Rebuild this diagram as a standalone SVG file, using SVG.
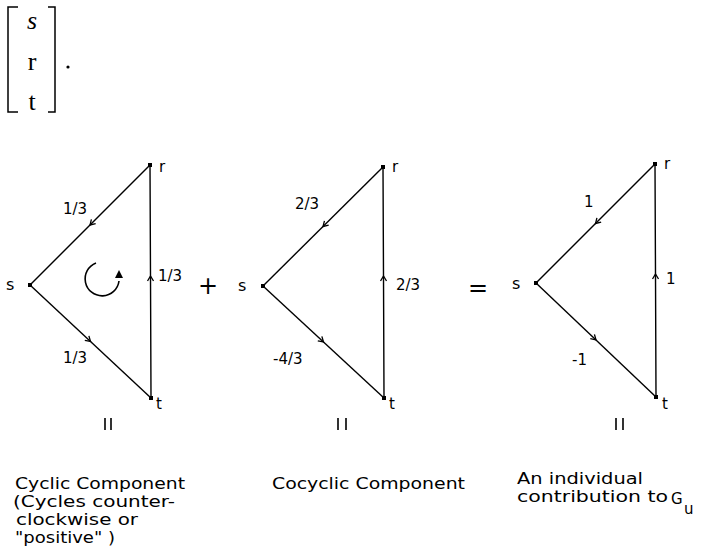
<svg xmlns="http://www.w3.org/2000/svg" width="701" height="553" viewBox="0 0 701 553">
<defs>
<marker id="ah" viewBox="-6 -4 8 8" markerWidth="8" markerHeight="8" refX="0" refY="0" orient="auto" markerUnits="userSpaceOnUse">
<path d="M-5,-3 L0,0 L-5,3" fill="none" stroke="#000" stroke-width="1.3"/>
</marker>
</defs>
<style>
.e{fill:none;stroke:#000;stroke-width:1.4;marker-mid:url(#ah)}
.n{fill:#000}
.l{font-family:"DejaVu Sans",sans-serif;font-size:15px;fill:#000}
.c{font-family:"DejaVu Sans",sans-serif;font-size:16px;fill:#000}
.m{font-family:"Liberation Serif",serif;font-size:26px;fill:#000}
.b{fill:none;stroke:#000;stroke-width:1.5}
</style>
<rect width="701" height="553" fill="#fff"/>

<g id="vector">
<path class="b" d="M18,7 H8 V112 H18"/>
<path class="b" d="M48,7 H55 V112 H48"/>
<text class="m" x="32" y="29" text-anchor="middle" font-style="italic">s</text>
<text class="m" x="32" y="70" text-anchor="middle">r</text>
<text class="m" x="32" y="110" text-anchor="middle">t</text>
<circle cx="68" cy="67" r="1.6" class="n"/>
</g>

<g id="connectors">
<path class="e" d="M150,165 L90,225 L30,285"/>
<path class="e" d="M30,285 L90.5,341.5 L151,398"/>
<path class="e" d="M151,398 L150.5,276 L150,165"/>
<path class="e" d="M383,167 L323,226.5 L263,286"/>
<path class="e" d="M263,286 L323.5,342 L384,398"/>
<path class="e" d="M384,398 L383.5,276 L383,167"/>
<path class="e" d="M655,164 L595.5,223.5 L536,283"/>
<path class="e" d="M536,283 L596,340 L656,397"/>
<path class="e" d="M656,397 L655.5,274 L655,164"/>
</g>

<g id="cyclic">
<rect class="n" x="148" y="163" width="4" height="4"/>
<rect class="n" x="28" y="283" width="4" height="4"/>
<rect class="n" x="149" y="396" width="4" height="4"/>
<text class="l" x="159" y="172">r</text>
<text class="l" x="6" y="290" style="font-size:16px">s</text>
<text class="l" x="156" y="409">t</text>
<text class="l" x="63" y="214">1/3</text>
<text class="l" x="158" y="281">1/3</text>
<text class="l" x="63" y="363">1/3</text>
<path d="M96,263 A17,17 0 1 0 119,281" fill="none" stroke="#000" stroke-width="1.6"/>
<path d="M119,270 L115,278 L123,278 Z" class="n"/>
<path d="M105,418 V430 M111,418 V430" stroke="#000" stroke-width="1.6"/>
</g>

<text class="l" x="208" y="294" text-anchor="middle" style="font-size:24px">+</text>

<g id="cocyclic">
<rect class="n" x="381" y="165" width="4" height="4"/>
<rect class="n" x="261" y="284" width="4" height="4"/>
<rect class="n" x="382" y="396" width="4" height="4"/>
<text class="l" x="392" y="172">r</text>
<text class="l" x="238" y="291" style="font-size:16px">s</text>
<text class="l" x="389" y="409">t</text>
<text class="l" x="295" y="209">2/3</text>
<text class="l" x="396" y="290">2/3</text>
<text class="l" x="273" y="364">-4/3</text>
<path d="M338,418 V430 M346,418 V430" stroke="#000" stroke-width="1.6"/>
</g>

<text class="l" x="478" y="296" text-anchor="middle" style="font-size:24px">=</text>

<g id="sum">
<rect class="n" x="653" y="162" width="4" height="4"/>
<rect class="n" x="534" y="281" width="4" height="4"/>
<rect class="n" x="654" y="395" width="4" height="4"/>
<text class="l" x="664" y="169">r</text>
<text class="l" x="512" y="289" style="font-size:16px">s</text>
<text class="l" x="662" y="409">t</text>
<text class="l" x="584" y="207">1</text>
<text class="l" x="666" y="284">1</text>
<text class="l" x="572" y="365">-1</text>
<path d="M616,418 V430 M623,418 V430" stroke="#000" stroke-width="1.6"/>
</g>

<g id="captions">
<text class="c" x="15" y="489" textLength="170" lengthAdjust="spacingAndGlyphs">Cyclic Component</text>
<text class="c" x="13" y="507" textLength="162" lengthAdjust="spacingAndGlyphs">(Cycles counter-</text>
<text class="c" x="16" y="525" textLength="122" lengthAdjust="spacingAndGlyphs">clockwise or</text>
<text class="c" x="15" y="543" textLength="100" lengthAdjust="spacingAndGlyphs">"positive" )</text>
<text class="c" x="272" y="489" textLength="193" lengthAdjust="spacingAndGlyphs">Cocyclic Component</text>
<text class="c" x="517" y="484" textLength="126" lengthAdjust="spacingAndGlyphs">An individual</text>
<text class="c" x="517" y="502" textLength="151" lengthAdjust="spacingAndGlyphs">contribution to</text>
<text class="c" x="671" y="504" style="font-size:15px">G</text>
<text class="c" x="684" y="514" style="font-size:15px">u</text>
</g>
</svg>
